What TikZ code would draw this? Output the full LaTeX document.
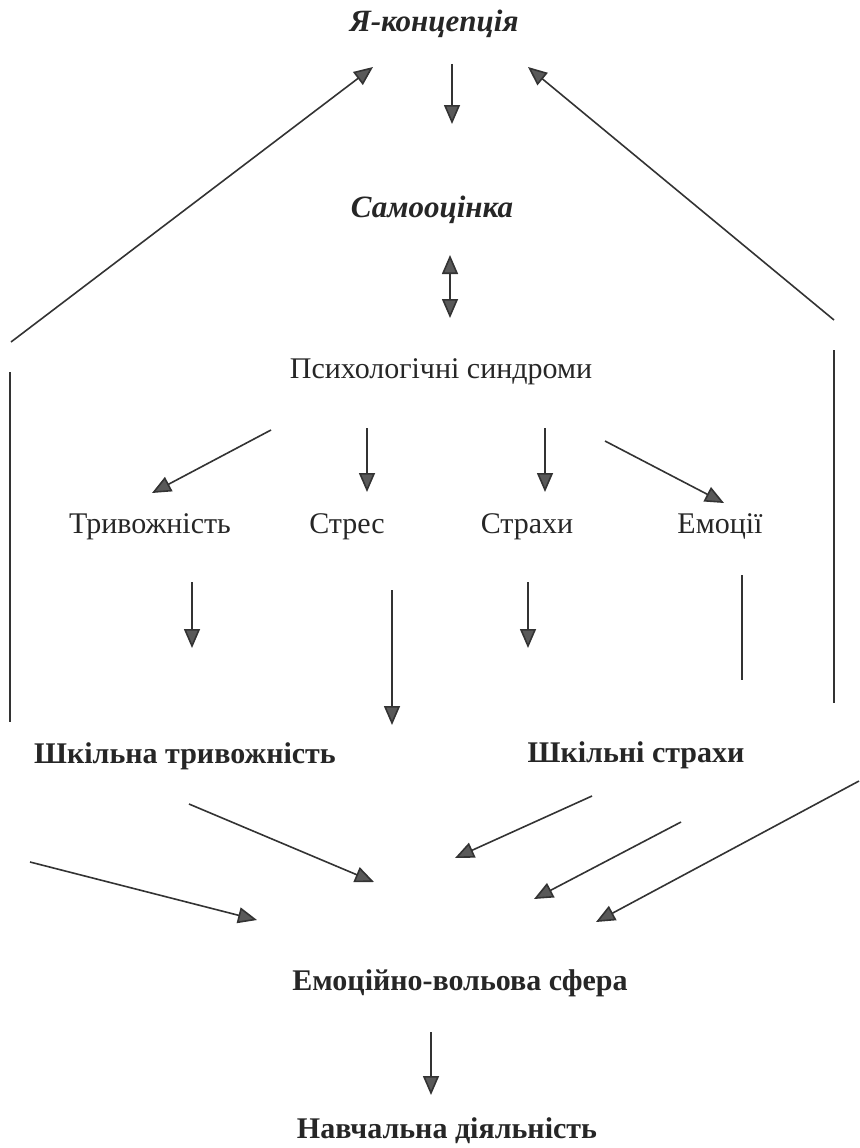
\documentclass[tikz,border=0pt]{standalone}
\usepackage{fontspec}
\setmainfont{Liberation Serif}
\usetikzlibrary{arrows.meta}
\begin{document}
\begin{tikzpicture}[x=1pt,y=-1pt,
    lbl/.style={anchor=base,inner sep=0pt,text=black!85,font=\fontsize{30}{34}\selectfont},
    lblb/.style={lbl,font=\fontsize{30}{34}\selectfont\bfseries},
    lblbi/.style={lbl,font=\fontsize{31}{34}\selectfont\bfseries\itshape},
    tip/.tip={Triangle[length=19pt,width=16pt,fill=black!65]},
    arr/.style={-tip,line width=1.6pt,draw=black!80},
    ln/.style={-,line width=1.5pt,draw=black!80}]
  \useasboundingbox (0,0) rectangle (859,1148);
  \draw
    (434,32) node[lblbi] (ja){Я-концепція}
    (432,217) node[lblbi] (samo){Самооцінка}
    (441,378) node[lbl] (psy){Психологічні синдроми}
    (150,533) node[lbl] (tryv){Тривожність}
    (347,533) node[lbl] (stres){Стрес}
    (527,533) node[lbl] (strakhy){Страхи}
    (720,533) node[lbl] (emoc){Емоції}
    (185,763) node[lblb] (shtryv){Шкільна тривожність}
    (636,762) node[lblb] (shstr){Шкільні страхи}
    (460,990) node[lblb] (evs){Емоційно-вольова сфера}
    (447,1138) node[lblb] (navch){Навчальна діяльність};
  % free ends of the connectors
  \draw
    (452,64) coordinate (ja-s) (452,124) coordinate (samo-n)
    (450,255) coordinate (samo-s) (450,318) coordinate (psy-n)
    (271,430) coordinate (psy-1) (152,493) coordinate (tryv-n)
    (367,428) coordinate (psy-2) (367,492) coordinate (stres-n)
    (545,428) coordinate (psy-3) (545,492) coordinate (strakhy-n)
    (605,441) coordinate (psy-4) (724,503) coordinate (emoc-n)
    (192,582) coordinate (tryv-s) (192,648) coordinate (tryv-e)
    (528,582) coordinate (strakhy-s) (528,648) coordinate (strakhy-e)
    (392,590) coordinate (stres-s) (392,725) coordinate (shtryv-ne)
    (742,575) coordinate (emoc-s) (742,680) coordinate (emoc-e)
    (10,372) coordinate (lft-a) (10,722) coordinate (lft-b)
    (11,342) coordinate (lft-c) (373,67) coordinate (ja-w)
    (834,350) coordinate (rgt-a) (834,703) coordinate (rgt-b)
    (834,320) coordinate (rgt-c) (528,67) coordinate (ja-e)
    (189,804) coordinate (shtryv-s) (374,882) coordinate (evs-1)
    (592,796) coordinate (shstr-s) (455,858) coordinate (evs-2)
    (681,822) coordinate (shstr-e) (534,899) coordinate (evs-3)
    (859,781) coordinate (rgt-d) (596,922) coordinate (evs-4)
    (30,862) coordinate (lft-d) (257,920) coordinate (evs-5)
    (431,1032) coordinate (evs-s) (431,1095) coordinate (navch-n);
  \begin{scope}[arr]
    \draw (ja-s) to (samo-n);
    \draw[tip-tip] (samo-s) to (psy-n);
    \draw (psy-1) to (tryv-n);
    \draw (psy-2) to (stres-n);
    \draw (psy-3) to (strakhy-n);
    \draw (psy-4) to (emoc-n);
    \draw (tryv-s) to (tryv-e);
    \draw (strakhy-s) to (strakhy-e);
    \draw (stres-s) to (shtryv-ne);
    \draw (lft-c) to (ja-w);
    \draw (rgt-c) to (ja-e);
    \draw (shtryv-s) to (evs-1);
    \draw (shstr-s) to (evs-2);
    \draw (shstr-e) to (evs-3);
    \draw (rgt-d) to (evs-4);
    \draw (lft-d) to (evs-5);
    \draw (evs-s) to (navch-n);
  \end{scope}
  \begin{scope}[ln]
    \draw (emoc-s) to (emoc-e);
    \draw (lft-a) to (lft-b);
    \draw (rgt-a) to (rgt-b);
  \end{scope}
\end{tikzpicture}
\end{document}
